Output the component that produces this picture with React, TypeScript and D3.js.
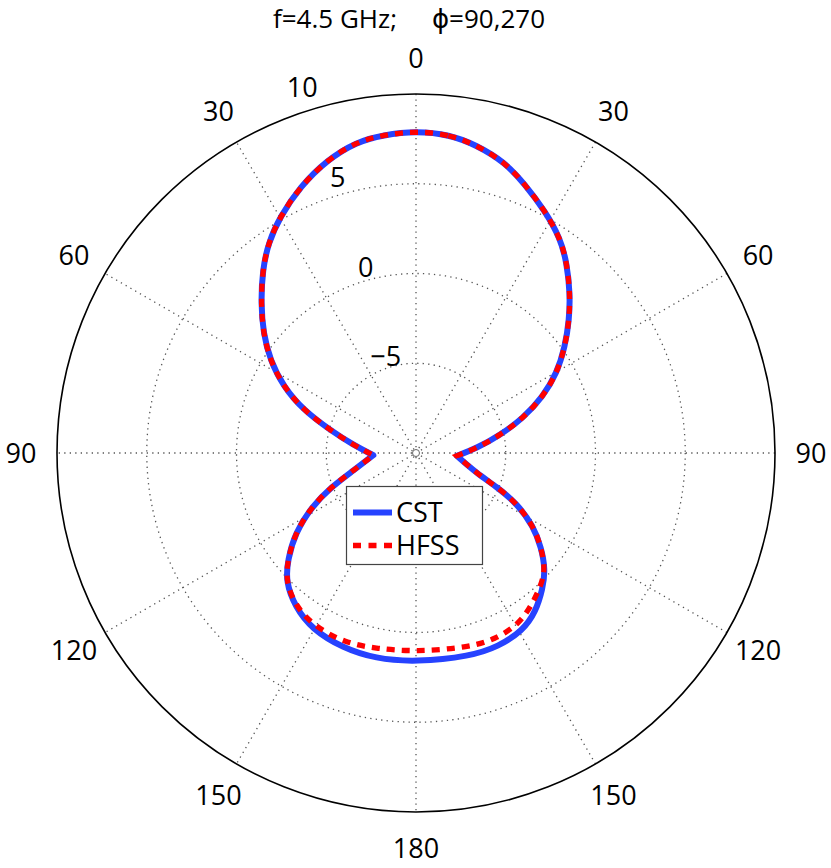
import React from "react";
import * as d3 from "d3";

// Angles in degrees, measured clockwise from the top (0..360)
const angles = [0, 6, 11, 17, 22, 28, 34, 38.5, 44, 49, 54.5, 60.5, 66, 72, 78, 85.5, 94, 108.5, 112.7, 116.5, 122, 127, 132, 137, 143, 149, 157, 165, 180,
  191.2, 200.7, 210.5, 218.2, 225.4, 230.2, 236.4, 242.8, 248.2, 253.8, 267, 277.3, 285, 290.9, 296.6, 302.5, 308.1, 314, 320, 324.8, 330.1, 336.5, 343.1, 349.2, 354.1];

const cstDb = [7.94, 7.83, 7.49, 6.94, 6.16, 5.29, 4.40, 3.50, 2.36, 1.31, 0.20, -0.99, -2.25, -3.72, -5.21, -6.61, -7.72, -6.43, -5.13, -3.73, -2.28, -1.27, -0.30, 0.35, 1.08, 1.55, 1.72, 1.72, 1.65,
  1.68, 1.60, 1.40, 0.90, 0.19, -0.70, -1.91, -3.46, -4.94, -6.27, -7.62, -6.48, -5.04, -3.28, -1.74, -0.36, 0.81, 2.01, 3.30, 4.29, 5.19, 6.18, 7.06, 7.65, 7.81];

const hfssDb = [7.94, 7.83, 7.49, 6.94, 6.16, 5.29, 4.40, 3.50, 2.36, 1.31, 0.20, -0.99, -2.25, -3.72, -5.21, -6.61, -7.72, -6.43, -5.13, -3.73, -2.28, -1.27, -0.30, 0.18, 0.66, 1.13, 1.28, 1.22, 1.07,
  1.12, 1.30, 1.19, 0.85, 0.19, -0.70, -1.91, -3.46, -4.94, -6.27, -7.62, -6.48, -5.04, -3.28, -1.74, -0.36, 0.81, 2.01, 3.30, 4.29, 5.19, 6.18, 7.06, 7.65, 7.81];

const ringValues = [-5, 0, 5, 10];
const rDomain = [-10, 10];
const spokeAngles = [0, 30, 60, 90, 120, 150];
const angleLabelsRight = [0, 30, 60, 90, 120, 150, 180];
const angleLabelsLeft = [30, 60, 90, 120, 150];
const titleLeft = "f=4.5 GHz;";
const titleRight = "\u03D5=90,270";
const seriesNames = ["CST", "HFSS"];

const W = 831, H = 868;
const CX = 416, CY = 453, R = 359;
const FONT = "'Open Sans', 'DejaVu Sans', sans-serif";
const BLUE = "#2642ff";
const RED = "#ff0000";
const GRID = "#555";

type P = [number, number];

// B-spline through the samples, with the sharp nulls kept as corners
function buildPoints(vals: number[]): P[] {
  const n = vals.length;
  const out: P[] = [];
  for (let i = 0; i < n; i++) {
    const p: P = [angles[i], vals[i]];
    const prev = vals[(i - 1 + n) % n];
    const next = vals[(i + 1) % n];
    if (vals[i] < prev && vals[i] < next && vals[i] < -7) {
      out.push(p, p, p);
    } else out.push(p);
  }
  return out;
}

export default function App() {
  const r = d3.scaleLinear().domain(rDomain).range([0, R]);
  const toRad = (deg: number) => (deg * Math.PI) / 180;

  const line = d3
    .lineRadial<P>()
    .angle((d) => toRad(d[0]))
    .radius((d) => r(d[1]))
    .curve(d3.curveBasisClosed);

  const cstPath = line(buildPoints(cstDb)) || "";
  const hfssPath = line(buildPoints(hfssDb)) || "";

  const labelR = R + 36;
  const polar = (deg: number, rad: number) => [
    CX + rad * Math.sin(toRad(deg)),
    CY - rad * Math.cos(toRad(deg)),
  ];

  return (
    <svg
      width={W}
      height={H}
      style={{ position: "absolute", left: 0, top: 0, background: "#fff" }}
      fontFamily={FONT}
    >
      <rect x={0} y={0} width={W} height={H} fill="#fff" />
      <text x={273} y={28} fontSize={26} textAnchor="start" fill="#000">
        {titleLeft}
      </text>
      <text x={545} y={28} fontSize={26} textAnchor="end" fill="#000">
        {titleRight}
      </text>
      <g>
        {ringValues.slice(0, -1).map((v) => (
          <circle key={v} cx={CX} cy={CY} r={r(v)} fill="none" stroke={GRID} strokeWidth={1.3} strokeDasharray="1.3,4.2" />
        ))}
        {spokeAngles.map((a) => {
          const [x1, y1] = polar(a, R);
          const [x2, y2] = polar(a + 180, R);
          return <line key={a} x1={x1} y1={y1} x2={x2} y2={y2} stroke={GRID} strokeWidth={1.3} strokeDasharray="1.3,4.2" />;
        })}
        <circle cx={CX} cy={CY} r={r(10)} fill="none" stroke="#000" strokeWidth={1.6} />
        <circle cx={CX} cy={CY} r={3.5} fill="#fff" stroke="#666" strokeWidth={1} />
      </g>
      {angleLabelsRight.map((a) => {
        const [x, y] = polar(a, labelR);
        return (
          <text key={"r" + a} x={x} y={y} dy="0.36em" fontSize={27} textAnchor="middle" fill="#000">
            {a}
          </text>
        );
      })}
      {angleLabelsLeft.map((a) => {
        const [x, y] = polar(-a, labelR);
        return (
          <text key={"l" + a} x={x} y={y} dy="0.36em" fontSize={27} textAnchor="middle" fill="#000">
            {a}
          </text>
        );
      })}
      {ringValues.map((v) => (
        <text key={"ring" + v} x={CX + 13 - 0.31 * r(v)} y={CY - r(v) + 3} fontSize={27} textAnchor="end" fill="#000">
          {v < 0 ? "\u2212" + Math.abs(v) : String(v)}
        </text>
      ))}
      <g transform={`translate(${CX},${CY})`}>
        <path d={cstPath} fill="none" stroke={BLUE} strokeWidth={6} strokeLinejoin="round" />
        <path d={hfssPath} fill="none" stroke={RED} strokeWidth={5.3} strokeDasharray="8,7" />
      </g>
      <g>
        <rect x={346.5} y={486.5} width={136} height={78} fill="#fff" stroke="#444" strokeWidth={1.2} />
        <line x1={353} y1={512.5} x2={392} y2={512.5} stroke={BLUE} strokeWidth={6} />
        <text x={396} y={521.5} fontSize={27} fill="#000">{seriesNames[0]}</text>
        <line x1={353} y1={545.5} x2={392} y2={545.5} stroke={RED} strokeWidth={5.3} strokeDasharray="8,7.5" />
        <text x={396} y={555} fontSize={27} fill="#000">{seriesNames[1]}</text>
      </g>
    </svg>
  );
}
